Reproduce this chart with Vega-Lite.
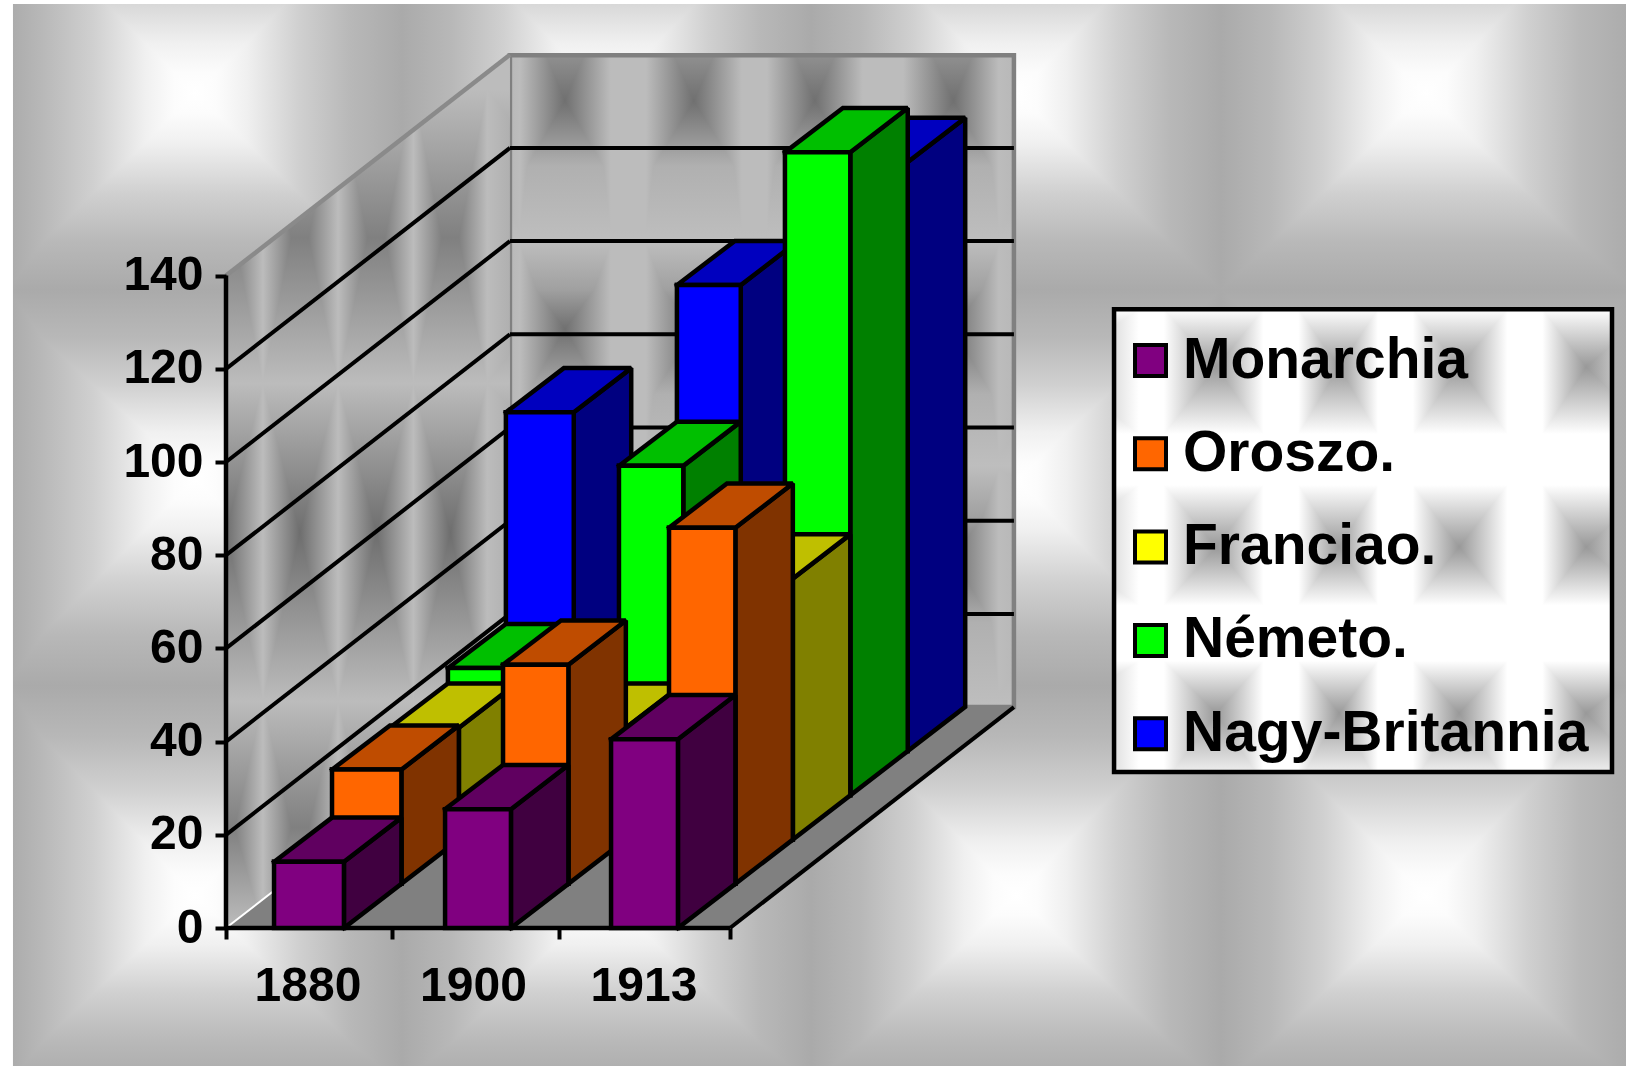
{"$schema":"https://vega.github.io/schema/vega-lite/v6.json","width":1400,"height":928,"autosize":{"type":"none"},"padding":{"left":226,"top":0,"right":0,"bottom":138},"background":"white","config":{"view":{"stroke":null}},
"layer":[
{"data":{"values":[{}]},"mark":{"type":"rect","fill":{"gradient":"linear","x1":0,"x2":1,"y1":0,"y2":0,"stops":[{"offset":0,"color":"#acacac"},{"offset":0.018,"color":"#b8b8b8"},{"offset":0.05,"color":"#d0d0d0"},{"offset":0.082,"color":"#f0f0f0"},{"offset":0.1,"color":"#fcfcfc"},{"offset":0.113,"color":"#ffffff"},{"offset":0.126,"color":"#fcfcfc"},{"offset":0.145,"color":"#f0f0f0"},{"offset":0.177,"color":"#d0d0d0"},{"offset":0.209,"color":"#b8b8b8"},{"offset":0.241,"color":"#aaaaaa"},{"offset":0.272,"color":"#b8b8b8"},{"offset":0.304,"color":"#d0d0d0"},{"offset":0.336,"color":"#f0f0f0"},{"offset":0.354,"color":"#fcfcfc"},{"offset":0.368,"color":"#ffffff"},{"offset":0.381,"color":"#fcfcfc"},{"offset":0.399,"color":"#f0f0f0"},{"offset":0.431,"color":"#d0d0d0"},{"offset":0.463,"color":"#b8b8b8"},{"offset":0.495,"color":"#aaaaaa"},{"offset":0.526,"color":"#b8b8b8"},{"offset":0.558,"color":"#d0d0d0"},{"offset":0.59,"color":"#f0f0f0"},{"offset":0.608,"color":"#fcfcfc"},{"offset":0.622,"color":"#ffffff"},{"offset":0.635,"color":"#fcfcfc"},{"offset":0.653,"color":"#f0f0f0"},{"offset":0.685,"color":"#d0d0d0"},{"offset":0.717,"color":"#b8b8b8"},{"offset":0.749,"color":"#aaaaaa"},{"offset":0.78,"color":"#b8b8b8"},{"offset":0.812,"color":"#d0d0d0"},{"offset":0.844,"color":"#f0f0f0"},{"offset":0.862,"color":"#fcfcfc"},{"offset":0.876,"color":"#ffffff"},{"offset":0.889,"color":"#fcfcfc"},{"offset":0.907,"color":"#f0f0f0"},{"offset":0.939,"color":"#d0d0d0"},{"offset":0.971,"color":"#b8b8b8"},{"offset":1,"color":"#acacac"}]}},
"encoding":{"x":{"datum":-1.268,"type":"quantitative","scale":{"domain":[0,8.3333],"range":[0,1400],"nice":false,"zero":false},"axis":{"zindex":1,"values":[0,0.485,0.988,1.47,1.98,2.485,3],"title":null,"grid":false,"domain":false,"tickSize":11,"tickWidth":4,"tickColor":"black","tickOpacity":{"condition":{"test":"datum.value==0.485||datum.value==1.47||datum.value==2.485","value":0},"value":1},"labelExpr":"datum.value==0.485?'1880':datum.value==1.47?'1900':datum.value==2.485?'1913':''","labelFont":"Liberation Sans","labelFontWeight":"bold","labelFontSize":48,"labelColor":"black","labelPadding":23,"labelOverlap":false,"labelFlush":false,"labelBound":false}},"x2":{"datum":8.3333},"y":{"datum":-29.6,"type":"quantitative","scale":{"domain":[0,199.142],"range":[928,0],"nice":false,"zero":false},"axis":{"zindex":1,"values":[0,20,40,60,80,100,120,140],"title":null,"grid":false,"domain":false,"tickSize":11,"tickWidth":4,"tickColor":"black","labelFont":"Liberation Sans","labelFontWeight":"bold","labelFontSize":48,"labelColor":"black","labelPadding":12,"labelOverlap":false,"labelBound":false,"labelFlush":false}},"y2":{"datum":198.3}}},
{"data":{"values":[{}]},"mark":{"type":"rect","blend":"darken","fill":{"gradient":"linear","x1":0,"x2":0,"y1":0,"y2":1,"stops":[{"offset":0,"color":"#d8d8d8"},{"offset":0.037,"color":"#f0f0f0"},{"offset":0.065,"color":"#fcfcfc"},{"offset":0.084,"color":"#ffffff"},{"offset":0.103,"color":"#fcfcfc"},{"offset":0.131,"color":"#f0f0f0"},{"offset":0.178,"color":"#d0d0d0"},{"offset":0.225,"color":"#b8b8b8"},{"offset":0.269,"color":"#aaaaaa"},{"offset":0.314,"color":"#b8b8b8"},{"offset":0.359,"color":"#d0d0d0"},{"offset":0.403,"color":"#f0f0f0"},{"offset":0.431,"color":"#fcfcfc"},{"offset":0.448,"color":"#ffffff"},{"offset":0.467,"color":"#fcfcfc"},{"offset":0.495,"color":"#f0f0f0"},{"offset":0.545,"color":"#d0d0d0"},{"offset":0.594,"color":"#b8b8b8"},{"offset":0.642,"color":"#aaaaaa"},{"offset":0.691,"color":"#b8b8b8"},{"offset":0.74,"color":"#d0d0d0"},{"offset":0.79,"color":"#f0f0f0"},{"offset":0.82,"color":"#fcfcfc"},{"offset":0.84,"color":"#ffffff"},{"offset":0.858,"color":"#fcfcfc"},{"offset":0.886,"color":"#f0f0f0"},{"offset":0.931,"color":"#d0d0d0"},{"offset":0.978,"color":"#b8b8b8"},{"offset":1,"color":"#b0b0b0"}]}},
"encoding":{"x":{"datum":-1.268,"type":"quantitative"},"x2":{"datum":8.3333},"y":{"datum":-29.6,"type":"quantitative"},"y2":{"datum":198.3}}},
{"data":{"values":[{}]},"mark":{"type":"rect","fill":{"gradient":"linear","x1":0,"x2":1,"y1":0,"y2":0,"stops":[{"offset":0,"color":"#b8b8b8"},{"offset":0.02,"color":"#bcbcbc"},{"offset":0.109,"color":"#707070"},{"offset":0.2,"color":"#bcbcbc"},{"offset":0.27,"color":"#bcbcbc"},{"offset":0.365,"color":"#707070"},{"offset":0.46,"color":"#bcbcbc"},{"offset":0.51,"color":"#bcbcbc"},{"offset":0.605,"color":"#707070"},{"offset":0.7,"color":"#bcbcbc"},{"offset":0.78,"color":"#bcbcbc"},{"offset":0.88,"color":"#707070"},{"offset":0.97,"color":"#bcbcbc"},{"offset":1,"color":"#b8b8b8"}]}},
"encoding":{"x":{"datum":1.69,"type":"quantitative"},"x2":{"datum":4.69},"y":{"datum":47.4,"type":"quantitative"},"y2":{"datum":187.3}}},
{"data":{"values":[{}]},"mark":{"type":"rect","blend":"lighten","fill":{"gradient":"linear","x1":0,"x2":0,"y1":0,"y2":1,"stops":[{"offset":0,"color":"#909090"},{"offset":0.07,"color":"#707070"},{"offset":0.17,"color":"#b0b0b0"},{"offset":0.285,"color":"#bebebe"},{"offset":0.36,"color":"#a0a0a0"},{"offset":0.42,"color":"#707070"},{"offset":0.52,"color":"#b0b0b0"},{"offset":0.63,"color":"#bebebe"},{"offset":0.71,"color":"#a0a0a0"},{"offset":0.77,"color":"#707070"},{"offset":0.87,"color":"#b0b0b0"},{"offset":1,"color":"#bebebe"}]}},
"encoding":{"x":{"datum":1.69,"type":"quantitative"},"x2":{"datum":4.69},"y":{"datum":47.4,"type":"quantitative"},"y2":{"datum":187.3}}},
{"data":{"values":[{}]},"mark":{"type":"rect","fillOpacity":0,"stroke":"#808080","strokeWidth":4.5},
"encoding":{"x":{"datum":1.69,"type":"quantitative"},"x2":{"datum":4.69},"y":{"datum":47.4,"type":"quantitative"},"y2":{"datum":187.3}}},
{"data":{"values":[{"t":0},{"t":1}]},"transform":[{"calculate":"datum.t*1.69","as":"wx"},{"calculate":"datum.t*47.4","as":"wy"},{"calculate":"140+datum.t*47.4","as":"wy2"}],"mark":{"type":"area","orient":"vertical","fill":{"gradient":"linear","x1":0,"x2":1,"y1":0,"y2":0,"stops":[{"offset":0,"color":"#6e6e6e"},{"offset":0.13,"color":"#bcbcbc"},{"offset":0.26,"color":"#6e6e6e"},{"offset":0.395,"color":"#bcbcbc"},{"offset":0.53,"color":"#6e6e6e"},{"offset":0.66,"color":"#bcbcbc"},{"offset":0.79,"color":"#6e6e6e"},{"offset":0.92,"color":"#bcbcbc"},{"offset":1,"color":"#b0b0b0"}]}},
"encoding":{"x":{"field":"wx","type":"quantitative"},"y":{"field":"wy","type":"quantitative"},"y2":{"field":"wy2"}}},
{"data":{"values":[{"t":0},{"t":1}]},"transform":[{"calculate":"datum.t*1.69","as":"wx"},{"calculate":"datum.t*47.4","as":"wy"},{"calculate":"140+datum.t*47.4","as":"wy2"}],"mark":{"type":"area","orient":"vertical","blend":"lighten","fill":{"gradient":"linear","x1":0,"x2":0,"y1":0,"y2":1,"stops":[{"offset":0,"color":"#bcbcbc"},{"offset":0.04,"color":"#bcbcbc"},{"offset":0.21,"color":"#808080"},{"offset":0.376,"color":"#bcbcbc"},{"offset":0.547,"color":"#6e6e6e"},{"offset":0.74,"color":"#bcbcbc"},{"offset":0.885,"color":"#808080"},{"offset":1,"color":"#bcbcbc"}]}},
"encoding":{"x":{"field":"wx","type":"quantitative"},"y":{"field":"wy","type":"quantitative"},"y2":{"field":"wy2"}}},
{"data":{"values":[{"t":0},{"t":1}]},"transform":[{"calculate":"datum.t*47.4","as":"fy"},{"calculate":"datum.t*1.69","as":"fx"},{"calculate":"3+datum.t*1.69","as":"fx2"}],"mark":{"type":"area","orient":"horizontal","fill":"#808080"},
"encoding":{"y":{"field":"fy","type":"quantitative"},"x":{"field":"fx","type":"quantitative"},"x2":{"field":"fx2"}}},
{"data":{"values":[{"v":20},{"v":40},{"v":60},{"v":80},{"v":100},{"v":120}]},"transform":[{"calculate":"datum.v+47.4","as":"vb"}],"mark":{"type":"rule","stroke":"black","strokeWidth":4},"encoding":{"x":{"datum":1.69,"type":"quantitative"},"x2":{"datum":4.69},"y":{"field":"vb","type":"quantitative"}}},
{"data":{"values":[{"v":20},{"v":40},{"v":60},{"v":80},{"v":100},{"v":120}]},"transform":[{"calculate":"datum.v+47.4","as":"vb"}],"mark":{"type":"rule","stroke":"black","strokeWidth":4},"encoding":{"x":{"datum":0,"type":"quantitative"},"x2":{"datum":1.69},"y":{"field":"v","type":"quantitative"},"y2":{"field":"vb"}}},
{"data":{"values":[{}]},"mark":{"type":"rule","stroke":"#8a8a8a","strokeWidth":4.5},"encoding":{"x":{"datum":0,"type":"quantitative"},"x2":{"datum":1.69},"y":{"datum":140,"type":"quantitative"},"y2":{"datum":187.4}}},
{"data":{"values":[{}]},"mark":{"type":"rule","stroke":"white","strokeWidth":2},"encoding":{"x":{"datum":0,"type":"quantitative"},"x2":{"datum":1.69},"y":{"datum":0,"type":"quantitative"},"y2":{"datum":47.4}}},
{"data":{"values":[{}]},"mark":{"type":"rule","stroke":"black","strokeWidth":4},"encoding":{"x":{"datum":3,"type":"quantitative"},"x2":{"datum":4.69},"y":{"datum":0,"type":"quantitative"},"y2":{"datum":47.4}}},
{"data":{"values":[{}]},"mark":{"type":"rule","stroke":"black","strokeWidth":4.5},"encoding":{"x":{"datum":0,"type":"quantitative"},"y":{"datum":0,"type":"quantitative"},"y2":{"datum":140}}},
{"data":{"values":[{}]},"mark":{"type":"rule","stroke":"black","strokeWidth":4.5},"encoding":{"x":{"datum":0,"type":"quantitative"},"x2":{"datum":3},"y":{"datum":0,"type":"quantitative"}}},
{"data":{"values":[{}]},"mark":{"type":"rect","fill":{"gradient":"linear","x1":0,"x2":1,"y1":0,"y2":0,"stops":[{"offset":0,"color":"#e0e0e0"},{"offset":0.05,"color":"#ffffff"},{"offset":0.1,"color":"#ffffff"},{"offset":0.205,"color":"#999999"},{"offset":0.3,"color":"#ffffff"},{"offset":0.37,"color":"#ffffff"},{"offset":0.452,"color":"#999999"},{"offset":0.53,"color":"#ffffff"},{"offset":0.6,"color":"#ffffff"},{"offset":0.693,"color":"#999999"},{"offset":0.79,"color":"#ffffff"},{"offset":0.86,"color":"#ffffff"},{"offset":0.948,"color":"#999999"},{"offset":1,"color":"#c0c0c0"}]}},
"encoding":{"x":{"datum":5.286,"type":"quantitative"},"x2":{"datum":8.25},"y":{"datum":33.5,"type":"quantitative"},"y2":{"datum":132.8}}},
{"data":{"values":[{}]},"mark":{"type":"rect","blend":"lighten","fill":{"gradient":"linear","x1":0,"x2":0,"y1":0,"y2":1,"stops":[{"offset":0,"color":"#ffffff"},{"offset":0.125,"color":"#999999"},{"offset":0.27,"color":"#ffffff"},{"offset":0.38,"color":"#ffffff"},{"offset":0.514,"color":"#999999"},{"offset":0.64,"color":"#ffffff"},{"offset":0.76,"color":"#ffffff"},{"offset":0.873,"color":"#999999"},{"offset":1,"color":"#eeeeee"}]}},
"encoding":{"x":{"datum":5.286,"type":"quantitative"},"x2":{"datum":8.25},"y":{"datum":33.5,"type":"quantitative"},"y2":{"datum":132.8}}},
{"data":{"values":[{}]},"mark":{"type":"rect","fillOpacity":0,"stroke":"black","strokeWidth":4.5},
"encoding":{"x":{"datum":5.286,"type":"quantitative"},"x2":{"datum":8.25},"y":{"datum":33.5,"type":"quantitative"},"y2":{"datum":132.8}}},
{"data":{"values":[
{"year":1880,"country":"Nagy-Britannia","value":72.7},{"year":1900,"country":"Nagy-Britannia","value":100},{"year":1913,"country":"Nagy-Britannia","value":126.4},
{"year":1880,"country":"Németo.","value":27.3},{"year":1900,"country":"Németo.","value":70.7},{"year":1913,"country":"Németo.","value":138},
{"year":1880,"country":"Franciao.","value":24},{"year":1900,"country":"Franciao.","value":24},{"year":1913,"country":"Franciao.","value":56},
{"year":1880,"country":"Oroszo.","value":24.5},{"year":1900,"country":"Oroszo.","value":47},{"year":1913,"country":"Oroszo.","value":76.4},
{"year":1880,"country":"Monarchia","value":14.2},{"year":1900,"country":"Monarchia","value":25.5},{"year":1913,"country":"Monarchia","value":40.5}]},
"transform":[
{"calculate":"indexof([1880,1900,1913],datum.year)","as":"yi"},
{"calculate":"indexof(['Monarchia','Oroszo.','Franciao.','Németo.','Nagy-Britannia'],datum.country)","as":"d"},
{"calculate":"[0.286,1.304,2.292][datum.yi]+datum.d*0.345","as":"xl"},
{"calculate":"[0.702,1.696,2.69][datum.yi]+datum.d*0.342","as":"xr"},
{"calculate":"datum.d*9.49","as":"b"},
{"calculate":"datum.value+datum.b","as":"tp"},
{"calculate":"['side','top','front']","as":"face"},
{"flatten":["face"]},
{"calculate":"datum.face=='front'?[datum.xl,datum.xr,datum.xr,datum.xl,datum.xl]:datum.face=='side'?[datum.xr,datum.xr+0.342,datum.xr+0.342,datum.xr,datum.xr]:[datum.xl,datum.xr,datum.xr+0.342,datum.xl+0.345,datum.xl]","as":"vx"},
{"calculate":"datum.face=='front'?[datum.b,datum.b,datum.tp,datum.tp,datum.b]:datum.face=='side'?[datum.b,datum.b+9.49,datum.tp+9.49,datum.tp,datum.b]:[datum.tp,datum.tp,datum.tp+9.49,datum.tp+9.49,datum.tp]","as":"vy"},
{"calculate":"[0,1,2,3,4]","as":"vi"},
{"flatten":["vx","vy","vi"]},
{"calculate":"datum.face=='front'?datum.country:datum.country+' '+datum.face","as":"paint"},
{"calculate":"datum.year+datum.paint","as":"bar"}],
"mark":{"type":"line","stroke":"black","strokeWidth":4.5,"strokeJoin":"miter","strokeMiterLimit":2,"strokeCap":"square","clip":false},
"encoding":{"x":{"field":"vx","type":"quantitative"},"y":{"field":"vy","type":"quantitative"},"order":{"field":"vi","type":"quantitative"},"detail":{"field":"bar"},
"fill":{"field":"paint","type":"nominal","scale":{"domain":["Monarchia","Oroszo.","Franciao.","Németo.","Nagy-Britannia","Monarchia side","Oroszo. side","Franciao. side","Németo. side","Nagy-Britannia side","Monarchia top","Oroszo. top","Franciao. top","Németo. top","Nagy-Britannia top"],"range":["#800080","#FF6600","#FFFF00","#00FF00","#0000FF","#400040","#803300","#808000","#008000","#000080","#600060","#BF4C00","#BFBF00","#00BF00","#0000BF"]},
"legend":{"orient":"none","legendX":896,"legendY":332,"zindex":2,"title":null,"values":["Monarchia","Oroszo.","Franciao.","Németo.","Nagy-Britannia"],"symbolType":"square","symbolSize":961,"symbolStrokeColor":"black","symbolStrokeWidth":4,"symbolOpacity":1,"labelFont":"Liberation Sans","labelFontWeight":"bold","labelFontSize":57,"labelColor":"black","labelLimit":600,"rowPadding":35.3,"labelOffset":4,"padding":0}}}}
]}
